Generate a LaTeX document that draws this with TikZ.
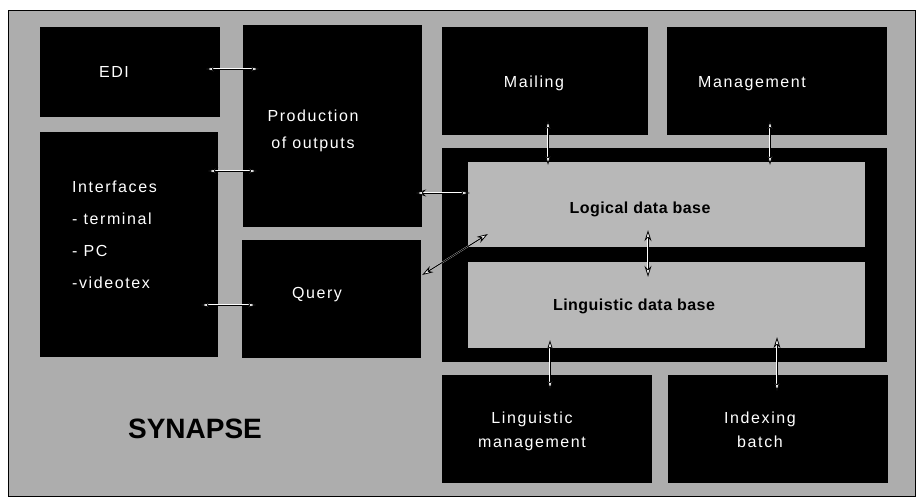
\documentclass[tikz,border=0pt]{standalone}
\usepackage{fontspec}
\setmainfont{Liberation Sans}
\newfontfamily\boxfont[LetterSpace=10]{Liberation Sans}
\newfontfamily\dbfont[LetterSpace=3]{Liberation Sans}
\usetikzlibrary{arrows.meta,calc}
\definecolor{panel}{gray}{0.68}
\definecolor{store}{gray}{0.72}
% two-way link: slim white halo under a black line with white heads
\newcommand\link[2]{%
  \draw[halo] #1 -- #2;
  \draw[conn] #1 -- #2;}
\begin{document}
\begin{tikzpicture}[x=1pt,y=-1pt,
  blk/.style={fill=black, draw=none, inner sep=0pt},
  store/.style={fill=store, draw=none, inner sep=0pt},
  lbl/.style={text=white, inner sep=0pt, anchor=base, align=center,
    font=\boxfont\fontsize{16}{19}\selectfont},
  dbl/.style={text=black, inner sep=0pt, anchor=base,
    font=\dbfont\bfseries\fontsize{16}{19}\selectfont},
  title/.style={text=black, inner sep=0pt, anchor=base,
    font=\bfseries\fontsize{28}{32}\selectfont},
  >={Stealth[length=11pt,width=7pt,inset=3.5pt,fill=white,line width=0.8pt]},
  conn/.style={draw=black, line width=1pt, <->},
  halo/.style={draw=white, line width=1.4pt, shorten <=5pt, shorten >=5pt}]
\useasboundingbox (0,0) rectangle (916,498);

% panel
\node[draw=black, fill=panel, line width=0.8pt, inner sep=0pt,
  minimum width=907pt, minimum height=486pt] (bg) at (461.5,253) {};

% black blocks
\node[blk, minimum width=180pt, minimum height=90pt]  (edi)   at (130,72) {};
\node[blk, minimum width=178pt, minimum height=225pt] (intf)  at (129,244.5) {};
\node[blk, minimum width=179pt, minimum height=202pt] (prod)  at (332.5,126) {};
\node[blk, minimum width=179pt, minimum height=118pt] (query) at (331.5,299) {};
\node[blk, minimum width=206pt, minimum height=108pt] (mail)  at (545,81) {};
\node[blk, minimum width=220pt, minimum height=108pt] (mgmt)  at (777,81) {};
\node[blk, minimum width=445pt, minimum height=214pt] (frame) at (664.5,255) {};
\node[store, minimum width=397pt, minimum height=85pt] (logic) at (666.5,204.5) {};
\node[store, minimum width=397pt, minimum height=86pt] (ling)  at (666.5,305) {};
\node[blk, minimum width=210pt, minimum height=108pt] (lmgmt) at (547,429) {};
\node[blk, minimum width=220pt, minimum height=108pt] (idx)   at (778,429) {};

% texts (multi-line nodes are placed by the baseline of their last line)
\node[lbl] (tedi) at (114,77) {EDI};
\node[lbl, font=\boxfont\fontsize{16}{27}\selectfont] (tprod) at (313,148) {Production\\of outputs};
\node[lbl, align=left, anchor=base west, font=\boxfont\fontsize{16}{31.7}\selectfont]
  (tintf) at (72,288) {Interfaces\\- terminal\\- PC\\-videotex};
\node[lbl] (tquery) at (317,298) {Query};
\node[lbl] (tmail) at (534,87) {Mailing};
\node[lbl] (tmgmt) at (752,87) {Management};
\node[dbl] (tlogic) at (640,213) {Logical data base};
\node[dbl] (tling) at (634,310) {Linguistic data base};
\node[lbl, font=\boxfont\fontsize{16}{24}\selectfont] (tlmgmt) at (532,447) {Linguistic\\management};
\node[lbl, font=\boxfont\fontsize{16}{24}\selectfont] (tidx) at (760,447) {Indexing\\batch};
\node[title] (tsyn) at (195,438) {SYNAPSE};

% links
\link{($(edi.east)+(-15,-3)$)}{($(prod.west)+(17,-57)$)}
\link{($(intf.east)+(-11,-73.5)$)}{($(prod.west)+(15,45)$)}
\link{($(intf.east)+(-18,60.5)$)}{($(query.west)+(15,6)$)}
\link{($(prod.east)+(-7,67)$)}{($(logic.west)+(2,-11.5)$)}
\link{($(query.east)+(1,-24)$)}{($(frame.west)+(46,-21)$)}
\link{($(mail.south)+(3,-15)$)}{($(logic.north)+(-118.5,3)$)}
\link{($(mgmt.south)+(-7,-15)$)}{($(logic.north)+(103.5,3)$)}
\link{($(logic.south)+(-18.5,-17)$)}{($(ling.north)+(-18.5,15)$)}
\link{($(ling.south)+(-116.5,-8)$)}{($(lmgmt.north)+(3,15)$)}
\link{($(ling.south)+(110.5,-11)$)}{($(idx.north)+(-1,17)$)}
\end{tikzpicture}
\end{document}
